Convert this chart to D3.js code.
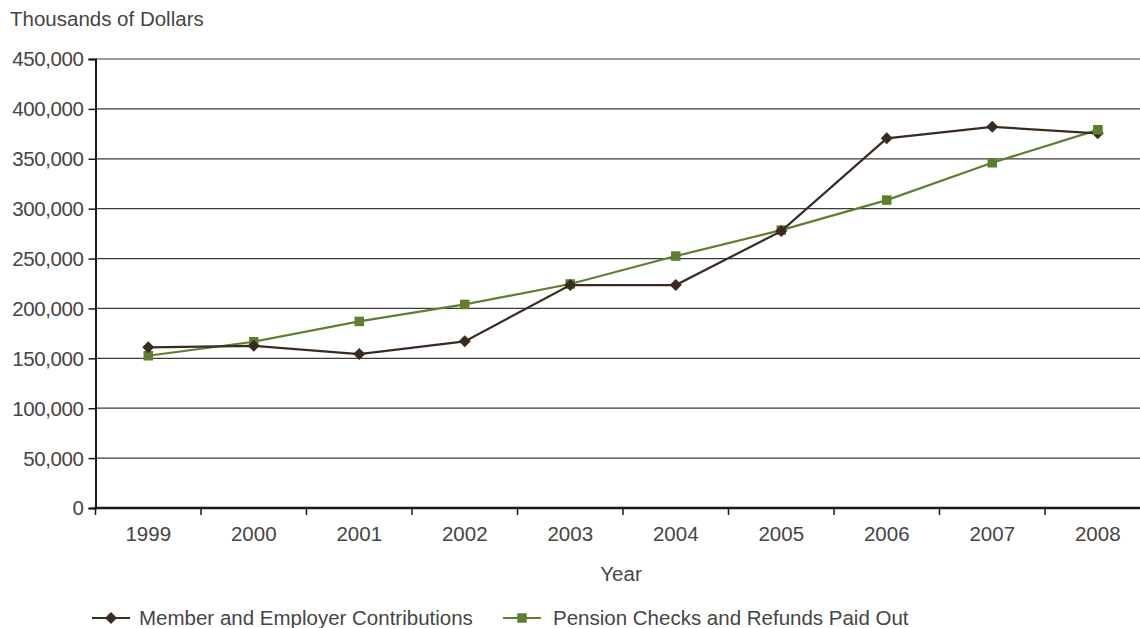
<!DOCTYPE html>
<html>
<head>
<meta charset="utf-8">
<script src="https://cdn.jsdelivr.net/npm/d3@7"></script>
<style>
  html, body { margin: 0; padding: 0; background: #fff; }
  svg { display: block; font-family: "Liberation Sans", Arial, sans-serif; }
</style>
</head>
<body>
<svg id="chart" width="1140" height="628"></svg>
<script>
// Yearly totals, thousands of dollars
const years = ["1999", "2000", "2001", "2002", "2003", "2004", "2005", "2006", "2007", "2008"];
const contributions = [161000, 162500, 154300, 167000, 223500, 223400, 277500, 370500, 382000, 375500];
const payouts = [152600, 166600, 187000, 204000, 224500, 252500, 278500, 308600, 346000, 379000];
const yTicks = [0, 50000, 100000, 150000, 200000, 250000, 300000, 350000, 400000, 450000];
const seriesNames = ["Member and Employer Contributions", "Pension Checks and Refunds Paid Out"];

const svg = d3.select("#chart");
const margin = { left: 95.5, top: 59, bottom: 508 };
const step = 105.5;
const x = d3.scaleBand().domain(years).range([margin.left, margin.left + step * years.length]).padding(0);
const y = d3.scaleLinear().domain([0, 450000]).range([margin.bottom, margin.top]);
const fmt = d3.format(",");
const textColor = "#454545";
const brown = "#3b2a20";
const green = "#5e7f2e";
const fs = 20.5;

// horizontal gridlines
svg.append("g")
  .selectAll("line")
  .data(yTicks.filter(d => d > 0))
  .join("line")
  .attr("x1", margin.left).attr("x2", 1140)
  .attr("y1", d => y(d)).attr("y2", d => y(d))
  .attr("stroke", "#3c3c3c").attr("stroke-width", 1.2);

// y axis
const yAxis = svg.append("g")
  .attr("transform", `translate(${margin.left},0)`)
  .call(d3.axisLeft(y).tickValues(yTicks).tickFormat(fmt).tickSize(7).tickPadding(5));
yAxis.select(".domain").attr("stroke", "#1a1a1a").attr("stroke-width", 2);
yAxis.selectAll(".tick line").attr("stroke", "#1a1a1a").attr("stroke-width", 1.5);
yAxis.selectAll(".tick text").attr("fill", textColor).attr("font-size", fs)
  .attr("dy", "0.34em").attr("letter-spacing", "-0.4px");

// x axis with ticks at band boundaries
const xg = svg.append("g").attr("transform", `translate(0,${margin.bottom})`);
xg.append("line")
  .attr("x1", margin.left - 1).attr("x2", 1140)
  .attr("stroke", "#1a1a1a").attr("stroke-width", 2.5);
xg.selectAll("line.tk")
  .data(years)
  .join("line").attr("class", "tk")
  .attr("x1", d => x(d)).attr("x2", d => x(d))
  .attr("y1", 0).attr("y2", 7)
  .attr("stroke", "#1a1a1a").attr("stroke-width", 1.5);
xg.selectAll("text")
  .data(years)
  .join("text")
  .attr("x", d => x(d) + x.bandwidth() / 2)
  .attr("y", 33)
  .attr("text-anchor", "middle")
  .attr("fill", textColor).attr("font-size", fs)
  .text(d => d);

// axis titles
svg.append("text").attr("x", 10).attr("y", 26).attr("fill", textColor).attr("font-size", fs)
  .text("Thousands of Dollars");
svg.append("text").attr("x", 621).attr("y", 581).attr("text-anchor", "middle")
  .attr("fill", textColor).attr("font-size", fs).text("Year");

const cx = d => x(d) + x.bandwidth() / 2;
const line = d3.line().x((d, i) => cx(years[i])).y(d => y(d));

// payouts series
svg.append("path").datum(payouts).attr("d", line)
  .attr("fill", "none").attr("stroke", green).attr("stroke-width", 2.2);
svg.append("g").selectAll("rect").data(payouts).join("rect")
  .attr("x", (d, i) => cx(years[i]) - 4.75).attr("y", d => y(d) - 4.75)
  .attr("width", 9.5).attr("height", 9.5).attr("fill", green);

// contributions series
svg.append("path").datum(contributions).attr("d", line)
  .attr("fill", "none").attr("stroke", brown).attr("stroke-width", 2.2);
const diamond = d3.symbol().type(d3.symbolSquare).size(72);
svg.append("g").selectAll("path").data(contributions).join("path")
  .attr("d", diamond)
  .attr("transform", (d, i) => `translate(${cx(years[i])},${y(d)}) rotate(45)`)
  .attr("fill", brown);

// payouts marker on top where the last points overlap
svg.append("rect")
  .attr("x", cx(years[9]) - 4.75).attr("y", y(payouts[9]) - 4.75)
  .attr("width", 9.5).attr("height", 9.5).attr("fill", green);

// legend
const legend = svg.append("g").attr("transform", "translate(0,618)");
const items = [
  { name: seriesNames[0], color: brown, x0: 92, tx: 139, shape: "diamond" },
  { name: seriesNames[1], color: green, x0: 503, tx: 553, shape: "square" }
];
items.forEach(it => {
  legend.append("line").attr("x1", it.x0).attr("x2", it.x0 + 38).attr("y1", 0).attr("y2", 0)
    .attr("stroke", it.color).attr("stroke-width", 2.2);
  if (it.shape === "diamond") {
    legend.append("path").attr("d", diamond)
      .attr("transform", `translate(${it.x0 + 19},0) rotate(45)`).attr("fill", it.color);
  } else {
    legend.append("rect").attr("x", it.x0 + 14.25).attr("y", -4.75).attr("width", 9.5).attr("height", 9.5)
      .attr("fill", it.color);
  }
  legend.append("text").attr("x", it.tx).attr("y", 0).attr("dy", "0.35em")
    .attr("fill", textColor).attr("font-size", fs).text(it.name);
});
</script>
</body>
</html>
